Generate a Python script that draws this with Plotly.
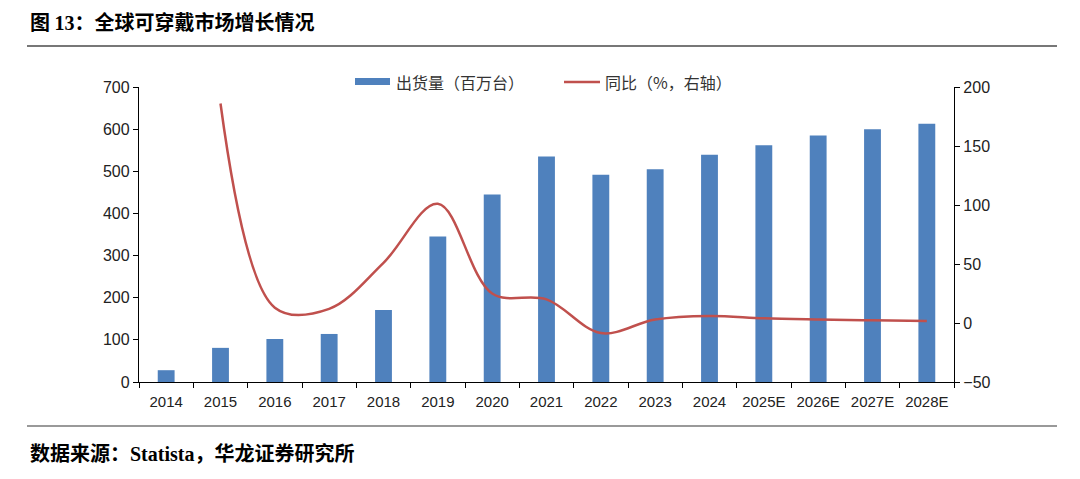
import plotly.graph_objects as go

years = ["2014", "2015", "2016", "2017", "2018", "2019", "2020", "2021", "2022",
         "2023", "2024", "2025E", "2026E", "2027E", "2028E"]
shipments = [28, 81, 102, 114, 171, 345, 445, 535, 492, 505, 539, 562, 585, 600, 613]
yoy_years = years[1:]
yoy = [186, 13, 12, 51, 101, 25, 20, -8.5, 3, 6, 4, 3, 2.3, 1.7]

bar_name = "出货量（百万台）"
line_name = "同比（%，右轴）"
title_text = "图 <span style='font-family:Liberation Serif'>13</span>：全球可穿戴市场增长情况"
source_text = "数据来源：<span style='font-family:Liberation Serif'>Statista</span>，华龙证券研究所"

BAR_COLOR = "#4F81BD"
LINE_COLOR = "#C0504D"

L, R, T, B = 139, 954, 87, 382
W, H = 1080, 479
pw, ph = R - L, B - T

def px(x):
    return (x - L) / pw

def py(y):
    return (B - y) / ph

fig = go.Figure()
fig.add_trace(go.Bar(x=years, y=shipments, name=bar_name, showlegend=False,
                     marker=dict(color=BAR_COLOR, line=dict(width=0)), yaxis="y"))
fig.add_trace(go.Scatter(x=yoy_years, y=yoy, name=line_name, mode="lines", showlegend=False,
                         line=dict(color=LINE_COLOR, width=2.5, shape="spline", smoothing=1.0),
                         yaxis="y2"))

tickfont = dict(family="Liberation Sans, Arial", size=16, color="#222")
xtickfont = dict(family="Liberation Sans, Arial", size=15, color="#222")
legfont = dict(family="Noto Sans CJK SC", size=16, color="#333")
fig.update_layout(
    width=W, height=H,
    margin=dict(l=L, r=W - R, t=T, b=H - B),
    paper_bgcolor="white", plot_bgcolor="white",
    bargap=0.69,
    showlegend=False,
    xaxis=dict(type="category", showline=True, linecolor="black", linewidth=1.3,
               ticks="outside", tickson="boundaries", ticklen=5, tickcolor="black",
               tickfont=xtickfont, tickangle=0, ticklabelstandoff=6,
               showgrid=False, zeroline=False),
    yaxis=dict(range=[0, 700], dtick=100, showline=True, linecolor="black", linewidth=1.3,
               ticks="outside", ticklen=5, tickcolor="black", tickfont=tickfont,
               showgrid=False, zeroline=False),
    yaxis2=dict(range=[-50, 200], dtick=50, overlaying="y", side="right", showline=True,
                linecolor="black", linewidth=1.3, ticks="outside", ticklen=5,
                tickcolor="black", tickfont=tickfont, showgrid=False, zeroline=False,
                tickformat="d"),
    shapes=[
        dict(type="line", xref="paper", yref="paper", x0=px(27), x1=px(1057),
             y0=py(46), y1=py(46), line=dict(color="#777", width=2)),
        dict(type="line", xref="paper", yref="paper", x0=px(27), x1=px(1057),
             y0=py(426), y1=py(426), line=dict(color="#777", width=1.5)),
        # legend swatches
        dict(type="rect", xref="paper", yref="paper", x0=px(355), x1=px(390),
             y0=py(85), y1=py(78), fillcolor=BAR_COLOR, line=dict(width=0)),
        dict(type="line", xref="paper", yref="paper", x0=px(564), x1=px(600),
             y0=py(82), y1=py(82), line=dict(color=LINE_COLOR, width=2.5)),
    ],
    annotations=[
        dict(text="<b>" + title_text + "</b>", xref="paper", yref="paper",
             x=px(28), y=py(22), xanchor="left", yanchor="middle", showarrow=False,
             font=dict(family="Noto Sans CJK SC", size=20, color="black")),
        dict(text="<b>" + source_text + "</b>", xref="paper", yref="paper",
             x=px(28), y=py(452), xanchor="left", yanchor="middle", showarrow=False,
             font=dict(family="Noto Sans CJK SC", size=20, color="black")),
        dict(text=bar_name, xref="paper", yref="paper", x=px(394), y=py(82),
             xanchor="left", yanchor="middle", showarrow=False, font=legfont),
        dict(text=line_name, xref="paper", yref="paper", x=px(603), y=py(82),
             xanchor="left", yanchor="middle", showarrow=False, font=legfont),
    ],
)

fig.write_html("out.html", post_script="document.body.style.margin='0';",
               config={"displayModeBar": False})
